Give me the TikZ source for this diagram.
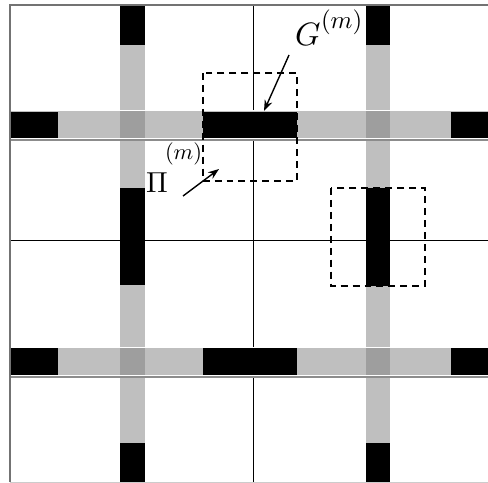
\documentclass[tikz,border=0pt]{standalone}
\usetikzlibrary{arrows.meta}
\definecolor{stripgray}{gray}{0.75}
\definecolor{crossgray}{gray}{0.62}
\definecolor{linegray}{gray}{0.55}
\definecolor{framegray}{gray}{0.45}
\tikzset{
  stripv/.style={fill=stripgray, draw=none},
  striph/.style={fill=stripgray, draw=white, line width=0.8pt},
  cross/.style={fill=crossgray, draw=none},
  bar/.style={fill=black, draw=none},
  gridline/.style={draw=black, line width=0.9pt},
  seamline/.style={draw=linegray, line width=2pt},
  dashbox/.style={draw=black, line width=1.4pt, dash pattern=on 7pt off 5pt},
  pointer/.style={draw=black, line width=1.4pt, -{Stealth[length=11pt,width=8pt]}},
  lab/.style={inner sep=0pt, outer sep=0pt}
}
\begin{document}
\begin{tikzpicture}[x=1bp,y=-1bp]
\useasboundingbox (0,0) rectangle (488,483);
\fill[white] (0,0) rectangle (488,483);
% grid lines
\draw[gridline] (253,5) -- (253,482);
\draw[gridline] (10,240) -- (488,240);
% vertical gray strips
\path[stripv] (120,5) rectangle (145,482);
\path[stripv] (366,5) rectangle (390,482);
% horizontal gray strips
\path[striph] (10,110) rectangle (488,138);
\path[striph] (10,347) rectangle (488,375);
% intersections
\path[cross] (120,111) rectangle (145,138);
\path[cross] (366,111) rectangle (390,138);
\path[cross] (120,348) rectangle (145,375);
\path[cross] (366,348) rectangle (390,375);
% seam lines below horizontal strips
\draw[seamline] (10,140) -- (488,140);
\draw[seamline] (10,376.5) -- (488,376.5);
% black bars: vertical
\path[bar] (120,5) rectangle (145,45);
\path[bar] (120,188) rectangle (145,285);
\path[bar] (120,443) rectangle (145,482);
\path[bar] (366,5) rectangle (390,45);
\path[bar] (366,188) rectangle (390,286);
\path[bar] (366,443) rectangle (390,482);
% black bars: horizontal
\path[bar] (10,112) rectangle (58,138);
\path[bar] (203,112) rectangle (297,138);
\path[bar] (451,112) rectangle (488,138);
\path[bar] (10,348) rectangle (58,375);
\path[bar] (203,348) rectangle (297,375);
\path[bar] (451,348) rectangle (488,375);
% frame
\draw[draw=framegray, line width=2.2pt] (10,482) -- (10,5) -- (488,5);
\draw[draw=gray!40, line width=1pt] (10,482) -- (488,482);
% dashed boxes
\draw[dashbox] (203,73) rectangle (297,181);
\draw[dashbox] (331,188) rectangle (425,286);
% labels
\node[lab, anchor=base west, scale=3.25] (G) at (295,46) {$G$};
\node[lab, anchor=base west, scale=2.5] (Gm) at (321,29) {$(m)$};
\node[lab, anchor=base west, scale=2.9] (P) at (146,193) {$\Pi$};
\node[lab, anchor=base west, scale=2.25] (Pm) at (165,160) {$(m)$};
% arrows
\coordinate (gs) at (289,55);
\coordinate (ge) at (264,111);
\coordinate (ps) at (183,196);
\coordinate (pe) at (219,169);
\draw[pointer] (gs) -- (ge);
\draw[pointer] (ps) -- (pe);
\end{tikzpicture}
\end{document}
